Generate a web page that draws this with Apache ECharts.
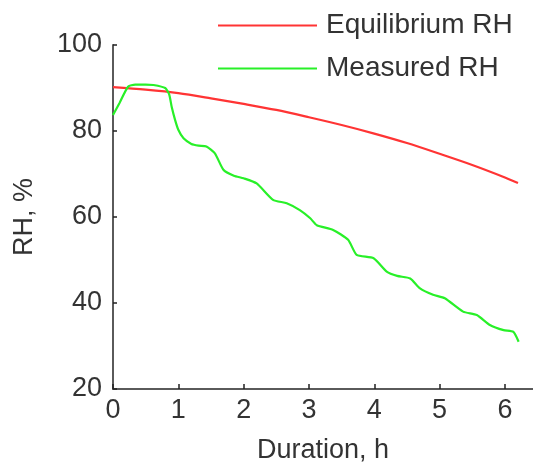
<!DOCTYPE html>
<html>
<head>
<meta charset="utf-8">
<script src="https://cdn.jsdelivr.net/npm/echarts@6/dist/echarts.min.js"></script>
<style>
  html, body { margin: 0; padding: 0; background: #fff; }
  #chart { width: 533px; height: 463px; }
</style>
</head>
<body>
<div id="chart"></div>
<script>
// Equilibrium relative humidity over the drying run
const durationEq = [0, 0.5, 1, 1.5, 2, 2.5, 3, 3.5, 4, 4.5, 5, 5.5, 6, 6.2];
const equilibriumRH = [90.2, 89.6, 88.8, 87.6, 86.3, 84.9, 83.2, 81.4, 79.4, 77.2, 74.7, 72.1, 69.2, 67.9];

// Measured relative humidity readings
const durationMeas = [0, 0.1, 0.23, 0.34, 0.5, 0.62, 0.8, 0.86, 0.9, 0.95, 1.0, 1.08, 1.2, 1.31, 1.43,
  1.56, 1.69, 1.85, 2.0, 2.2, 2.45, 2.66, 2.86, 3.02, 3.12, 3.37, 3.6, 3.73, 3.99, 4.19, 4.35,
  4.55, 4.7, 4.9, 5.08, 5.36, 5.57, 5.77, 5.98, 6.13, 6.21];
const measuredRH = [83.7, 86.5, 90.3, 90.8, 90.8, 90.7, 90.0, 88.5, 85.5, 82.6, 80.3, 78.3, 77.0, 76.6, 76.4,
  74.8, 71.0, 69.6, 69.0, 67.8, 64.0, 63.2, 61.6, 59.7, 58.1, 57.0, 54.7, 51.2, 50.4, 47.3, 46.3,
  45.7, 43.4, 41.9, 41.1, 38.0, 37.2, 34.9, 33.7, 33.3, 31.0];

const xTicks = [0, 1, 2, 3, 4, 5, 6];
const yTicks = [20, 40, 60, 80, 100];

const seriesNames = ['Equilibrium RH', 'Measured RH'];

const zip = (xs, ys) => xs.map((x, i) => [x, ys[i]]);

const font = '"Liberation Sans", Arial, sans-serif';
const axisColor = '#5a5a5a';
const textColor = '#333';

const chart = echarts.init(document.getElementById('chart'), null, { renderer: 'canvas' });

chart.setOption({
  animation: false,
  backgroundColor: '#fff',
  // the x axis runs on to the right edge of the figure
  grid: { left: 113, top: 45, bottom: 74, right: 0, containLabel: false, outerBoundsMode: 'none' },
  legend: {
    orient: 'vertical',
    left: 213,
    top: 6,
    icon: 'rect',
    itemWidth: 99,
    itemHeight: 2,
    itemGap: 14,
    data: seriesNames,
    textStyle: {
      fontFamily: font,
      fontSize: 28,
      lineHeight: 29,
      color: textColor,
      padding: [0, 0, 0, 4]
    }
  },
  xAxis: {
    type: 'value',
    min: 0,
    max: 6.43,
    interval: 1,
    name: 'Duration, h',
    nameLocation: 'middle',
    nameGap: 48,
    nameTextStyle: { fontFamily: font, fontSize: 27, color: textColor },
    axisLine: { show: true, onZero: false, lineStyle: { color: axisColor, width: 2 } },
    axisTick: { show: true, inside: true, length: 5, lineStyle: { color: '#222', width: 1.5 } },
    axisLabel: {
      fontFamily: font, fontSize: 27, color: textColor, margin: 8,
      showMaxLabel: false,
      formatter: v => (xTicks.indexOf(v) >= 0 ? String(v) : '')
    },
    splitLine: { show: false }
  },
  yAxis: {
    type: 'value',
    min: 20,
    max: 100,
    interval: 20,
    name: 'RH, %',
    nameLocation: 'middle',
    nameGap: 75,
    nameRotate: 90,
    nameTextStyle: { fontFamily: font, fontSize: 27, color: textColor },
    axisLine: { show: true, lineStyle: { color: axisColor, width: 2 } },
    axisTick: { show: true, inside: true, length: 4, lineStyle: { color: '#222', width: 1.5 } },
    axisLabel: {
      fontFamily: font, fontSize: 27, color: textColor, margin: 11,
      formatter: v => (yTicks.indexOf(v) >= 0 ? String(v) : '')
    },
    splitLine: { show: false }
  },
  series: [
    {
      name: seriesNames[0],
      type: 'line',
      data: zip(durationEq, equilibriumRH),
      smooth: 0.3,
      symbol: 'none',
      lineStyle: { color: '#ff3434', width: 2.2 },
      itemStyle: { color: '#ff3434' },
      z: 2
    },
    {
      name: seriesNames[1],
      type: 'line',
      data: zip(durationMeas, measuredRH),
      smooth: 0.2,
      symbol: 'none',
      lineStyle: { color: '#28f028', width: 2.2 },
      itemStyle: { color: '#28f028' },
      z: 3
    }
  ]
});
</script>
</body>
</html>
